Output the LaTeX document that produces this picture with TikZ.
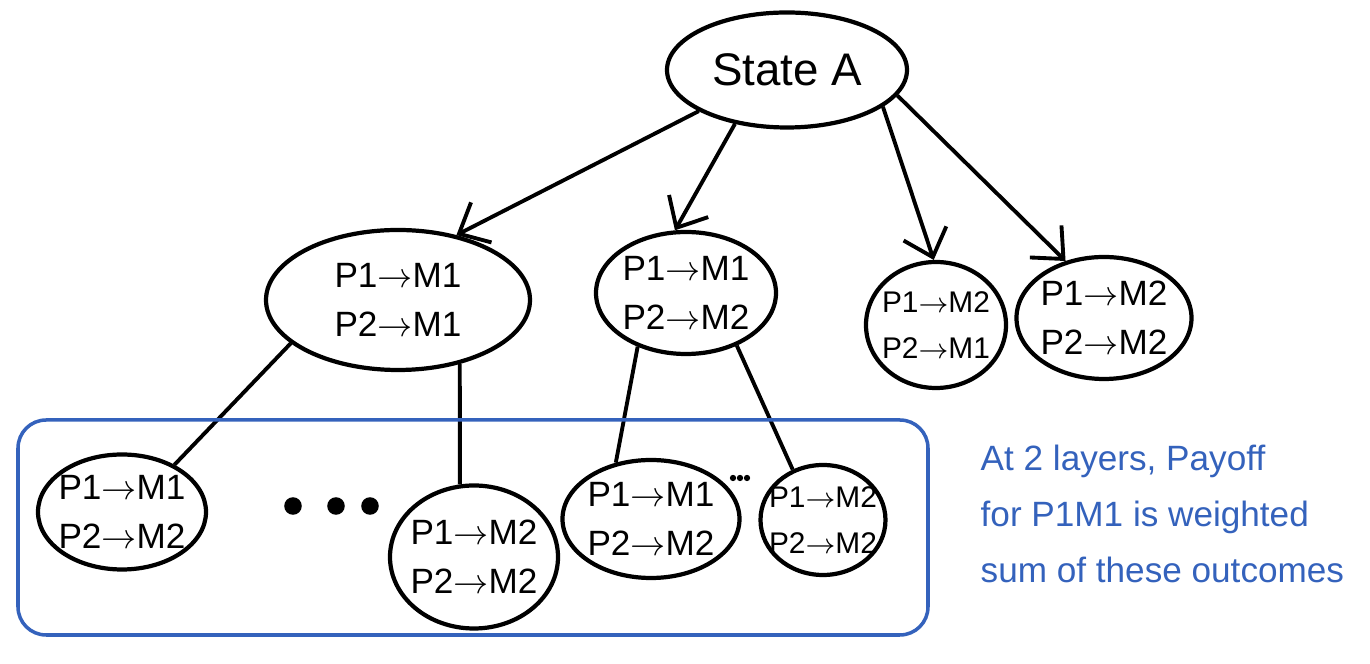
\documentclass[tikz,border=0pt]{standalone}
\usepackage{fontspec}
\setmainfont{Liberation Sans}
\usetikzlibrary{shapes.geometric,arrows.meta}
\definecolor{noteblue}{RGB}{52,98,188}
\begin{document}
\begin{tikzpicture}[
		state/.style={draw,ellipse,line width=1.2pt,inner xsep=-10pt,inner ysep=-6pt,align=center,font=\fontsize{10}{14}\selectfont},
		small/.style={font=\fontsize{8.5}{13}\selectfont},
		move/.style={-{Straight Barb[length=2.5mm,width=4.5mm]},line width=1.1pt},
		link/.style={line width=1.1pt},
		note/.style={noteblue,align=left,inner sep=0pt,font=\fontsize{10}{16}\selectfont}]
		\useasboundingbox(0,0)rectangle(13.7,6.64);
		\node[state,minimum width=2.4cm,minimum height=1.15cm,font=\fontsize{13}{16}\selectfont](stateA)at(7.87,5.94){State A};
		\node[state,minimum width=2.64cm,minimum height=1.4cm](m1m1)at(3.98,3.64){P1$\to$M1\\P2$\to$M1};
		\node[state,minimum width=1.8cm,minimum height=1.22cm](m1m2)at(6.86,3.71){P1$\to$M1\\P2$\to$M2};
		\node[state,small,minimum width=1.4cm,minimum height=1.26cm](m2m1)at(9.36,3.39){P1$\to$M2\\P2$\to$M1};
		\node[state,minimum width=1.75cm,minimum height=1.22cm](m2m2)at(11.04,3.46){P1$\to$M2\\P2$\to$M2};
		\node[state,minimum width=1.68cm,minimum height=1.15cm](b1)at(1.22,1.52){P1$\to$M1\\P2$\to$M2};
		\node[state,minimum width=1.68cm,minimum height=1.43cm](b2)at(4.74,1.07){P1$\to$M2\\P2$\to$M2};
		\node[state,minimum width=1.77cm,minimum height=1.18cm](b3)at(6.51,1.45){P1$\to$M1\\P2$\to$M2};
		\node[state,small,minimum width=1.25cm,minimum height=1.1cm](b4)at(8.23,1.44){P1$\to$M2\\P2$\to$M2};
		\draw[move](stateA.205)--(m1m1.48);
		\draw[move](stateA.226)--(m1m2.100);
		\draw[move](stateA.339)--(m2m1.92);
		\draw[move](stateA.347)--(m2m2.124);
		\draw[link](m1m1.202)--(b1.42) (m1m1.314)--(b2.101);
		\draw[link](m1m2.228)--(b3.122) (m1m2.314)--(b4.121);
		\foreach \x in {2.93,3.36,3.70} \fill(\x,1.58)circle(2.5pt);
		\foreach \x in {7.33,7.40,7.47} \fill(\x,1.86)circle(0.9pt);
		% outcomes summed for the payoff
		\draw[noteblue,line width=1pt,rounded corners=8pt](0.18,0.29)rectangle(9.28,2.44);
		\node[note,anchor=north west](sumnote)at(9.8,2.2){At 2 layers, Payoff\\for P1M1 is weighted\\sum of these outcomes};
	\end{tikzpicture}
\end{document}
